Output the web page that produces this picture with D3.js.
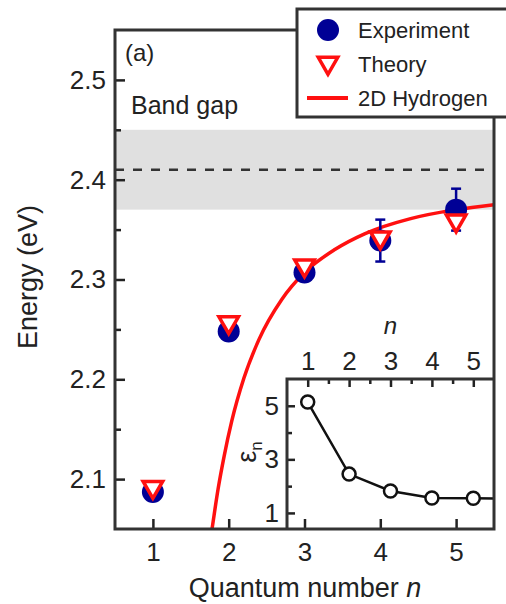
<!DOCTYPE html>
<html>
<head>
<meta charset="utf-8">
<script src="https://cdn.jsdelivr.net/npm/d3@7"></script>
<style>
  html, body { margin: 0; padding: 0; background: #fff; }
  svg text { font-family: "Liberation Sans", Arial, sans-serif; fill: #222; }
</style>
</head>
<body>
<svg id="chart" width="506" height="604"></svg>
<script>
// Exciton series: quantum number n and energies (eV)
const quantumN = [1, 2, 3, 4, 5];
const experimentE = [2.087, 2.248, 2.307, 2.339, 2.370];
const experimentErr = [0, 0, 0, 0.021, 0.021];
const theoryE = [2.092, 2.257, 2.314, 2.342, 2.359];

// 2D hydrogen model curve, sampled
const hydrogenN = [1.74, 1.78, 1.86, 1.94, 2.04, 2.2, 2.4, 2.7, 3.0, 3.4, 3.8, 4.4, 5.0, 5.5];
const hydrogenE = [2.030, 2.050, 2.090, 2.123, 2.158, 2.201, 2.240, 2.280, 2.307, 2.330, 2.346, 2.361, 2.370, 2.375];

// Band gap band and its centre
const bandGapLow = 2.37, bandGapHigh = 2.45, bandGapCentre = 2.41;

// Inset: dielectric screening epsilon_n vs n
const insetN = [1, 2, 3, 4, 5, 6];
const insetEps = [5.14, 2.45, 1.82, 1.56, 1.55, 1.52];

// Tick labels
const yTicks = [2.1, 2.2, 2.3, 2.4, 2.5];
const yMinorTicks = [2.15, 2.25, 2.35, 2.45];
const xTicks = [1, 2, 3, 4, 5];
const insetXTicks = [1, 2, 3, 4, 5];
const insetXMinor = [1.5, 2.5, 3.5, 4.5];
const insetYTicks = [1, 3, 5];
const insetYMinor = [2, 4];

const svg = d3.select("#chart");
const L = 115, R = 494, T = 30, B = 529;

const x = d3.scaleLinear().domain([0.5, 5.5]).range([L, R]);
const y = d3.scaleLinear().domain([2.05, 2.55]).range([B, T]);

svg.append("defs").append("clipPath").attr("id", "plotClip")
  .append("rect").attr("x", L).attr("y", T).attr("width", R - L).attr("height", B - T);

// Band gap shading and dashed centre line
svg.append("rect")
  .attr("x", L).attr("width", R - L)
  .attr("y", y(bandGapHigh)).attr("height", y(bandGapLow) - y(bandGapHigh))
  .attr("fill", "#e0e0e0");
svg.append("line")
  .attr("x1", L).attr("x2", R)
  .attr("y1", y(bandGapCentre)).attr("y2", y(bandGapCentre))
  .attr("stroke", "#333").attr("stroke-width", 2.5).attr("stroke-dasharray", "9,9");

// Axes with inward ticks
const fontTick = 26;
const gy = svg.append("g").attr("transform", `translate(${L},0)`)
  .call(d3.axisLeft(y).tickValues(yTicks).tickFormat(d3.format(".1f")).tickSize(-10).tickPadding(9));
const gyMinor = svg.append("g").attr("transform", `translate(${L},0)`)
  .call(d3.axisLeft(y).tickValues(yMinorTicks).tickFormat("").tickSize(-6));
const gx = svg.append("g").attr("transform", `translate(0,${B})`)
  .call(d3.axisBottom(x).tickValues(xTicks).tickFormat(d3.format("d")).tickSize(-10).tickPadding(14));
[gy, gyMinor, gx].forEach(g => {
  g.select(".domain").remove();
  g.selectAll(".tick line").attr("stroke", "#222").attr("stroke-width", 2.5);
  g.selectAll("text").attr("font-size", fontTick).attr("fill", "#222")
    .style("font-family", "'Liberation Sans', Arial, sans-serif");
});

// 2D hydrogen model curve
const plot = svg.append("g").attr("clip-path", "url(#plotClip)");
plot.append("path")
  .datum(hydrogenN.map((n, i) => [n, hydrogenE[i]]))
  .attr("fill", "none").attr("stroke", "#ff1010").attr("stroke-width", 3.5)
  .attr("d", d3.line().x(d => x(d[0])).y(d => y(d[1])).curve(d3.curveMonotoneX));

// Experiment error bars
const blue = "#000095";
const errs = quantumN.map((n, i) => ({ n, e: experimentE[i], s: experimentErr[i] })).filter(d => d.s > 0);
const eg = plot.append("g").attr("stroke", blue).attr("stroke-width", 2.5);
errs.forEach(d => {
  eg.append("line").attr("x1", x(d.n)).attr("x2", x(d.n)).attr("y1", y(d.e - d.s)).attr("y2", y(d.e + d.s));
  [d.e - d.s, d.e + d.s].forEach(v => eg.append("line")
    .attr("x1", x(d.n) - 5).attr("x2", x(d.n) + 5).attr("y1", y(v)).attr("y2", y(v)));
});

// Experiment points
plot.selectAll("circle.exp").data(quantumN).join("circle")
  .attr("class", "exp")
  .attr("cx", d => x(d)).attr("cy", (d, i) => y(experimentE[i]))
  .attr("r", 11).attr("fill", blue);

// Theory points (downward triangles)
const tri = d3.symbol().type(d3.symbolTriangle).size(165);
plot.selectAll("path.theory").data(quantumN).join("path")
  .attr("class", "theory")
  .attr("d", tri)
  .attr("transform", (d, i) => `translate(${x(d)},${y(theoryE[i])}) rotate(180)`)
  .attr("fill", "#fff").attr("stroke", "#ff1010").attr("stroke-width", 3.5);

// Inset
const iL = 287, iT = 379;
const ix = d3.scaleLinear().domain([0.5, 5.5]).range([iL, R]);
const iy = d3.scaleLinear().domain([0.4, 6.0]).range([B, iT]);
svg.append("defs").append("clipPath").attr("id", "insetClip")
  .append("rect").attr("x", iL).attr("y", iT).attr("width", R - iL).attr("height", B - iT);

const gix = svg.append("g").attr("transform", `translate(0,${iT})`)
  .call(d3.axisTop(ix).tickValues(insetXTicks).tickFormat(d3.format("d")).tickSize(-8).tickPadding(9));
const gixm = svg.append("g").attr("transform", `translate(0,${iT})`)
  .call(d3.axisTop(ix).tickValues(insetXMinor).tickFormat("").tickSize(-5));
const giy = svg.append("g").attr("transform", `translate(${iL},0)`)
  .call(d3.axisLeft(iy).tickValues(insetYTicks).tickFormat(d3.format("d")).tickSize(-8).tickPadding(8));
const giym = svg.append("g").attr("transform", `translate(${iL},0)`)
  .call(d3.axisLeft(iy).tickValues(insetYMinor).tickFormat("").tickSize(-5));
[gix, gixm, giy, giym].forEach(g => {
  g.select(".domain").remove();
  g.selectAll(".tick line").attr("stroke", "#222").attr("stroke-width", 2.5);
  g.selectAll("text").attr("font-size", fontTick).attr("fill", "#222")
    .style("font-family", "'Liberation Sans', Arial, sans-serif");
});

const inset = svg.append("g").attr("clip-path", "url(#insetClip)");
inset.append("path")
  .datum(insetN.map((n, i) => [n, insetEps[i]]))
  .attr("fill", "none").attr("stroke", "#111").attr("stroke-width", 2.5)
  .attr("d", d3.line().x(d => ix(d[0])).y(d => iy(d[1])));
inset.selectAll("circle").data(insetN).join("circle")
  .attr("cx", d => ix(d)).attr("cy", (d, i) => iy(insetEps[i]))
  .attr("r", 6.5).attr("fill", "#fff").attr("stroke", "#111").attr("stroke-width", 2.5);

// Inset frame (left and top)
svg.append("path")
  .attr("d", `M${iL},${B} V${iT} H${R}`)
  .attr("fill", "none").attr("stroke", "#333").attr("stroke-width", 3);

// Inset labels
svg.append("text").attr("x", ix(3)).attr("y", 334).attr("text-anchor", "middle")
  .attr("font-size", 24).attr("font-style", "italic").text("n");
const epsLabel = svg.append("text")
  .attr("transform", `translate(256,452) rotate(-90)`)
  .attr("text-anchor", "middle").attr("font-size", 27);
epsLabel.append("tspan").text("ε");
epsLabel.append("tspan").attr("font-size", 17).attr("dy", 6).text("n");

// Main frame
svg.append("rect").attr("x", L).attr("y", T).attr("width", R - L).attr("height", B - T)
  .attr("fill", "none").attr("stroke", "#333").attr("stroke-width", 3);

// Panel text
svg.append("text").attr("x", 125).attr("y", 61).attr("font-size", 24).text("(a)");
svg.append("text").attr("x", 131).attr("y", 114).attr("font-size", 25).text("Band gap");

// Axis titles
const xt = svg.append("text").attr("x", 305).attr("y", 597).attr("text-anchor", "middle").attr("font-size", 27);
xt.append("tspan").text("Quantum number ");
xt.append("tspan").attr("font-style", "italic").text("n");
svg.append("text").attr("transform", "translate(37,277) rotate(-90)")
  .attr("text-anchor", "middle").attr("font-size", 27).text("Energy (eV)");

// Legend
const lg = svg.append("g");
lg.append("rect").attr("x", 297).attr("y", 9).attr("width", 230).attr("height", 108)
  .attr("fill", "#fff").attr("stroke", "#333").attr("stroke-width", 3);
lg.append("circle").attr("cx", 328).attr("cy", 30).attr("r", 11).attr("fill", blue);
lg.append("path").attr("d", tri).attr("transform", "translate(328,63) rotate(180)")
  .attr("fill", "#fff").attr("stroke", "#ff1010").attr("stroke-width", 3.5);
lg.append("line").attr("x1", 307).attr("x2", 348).attr("y1", 98).attr("y2", 98)
  .attr("stroke", "#ff1010").attr("stroke-width", 4);
const legendLabels = ["Experiment", "Theory", "2D Hydrogen"];
const legendY = [30, 64, 98];
legendLabels.forEach((t, i) => lg.append("text")
  .attr("x", 358).attr("y", legendY[i]).attr("dy", "0.35em").attr("font-size", 22).text(t));
</script>
</body>
</html>
